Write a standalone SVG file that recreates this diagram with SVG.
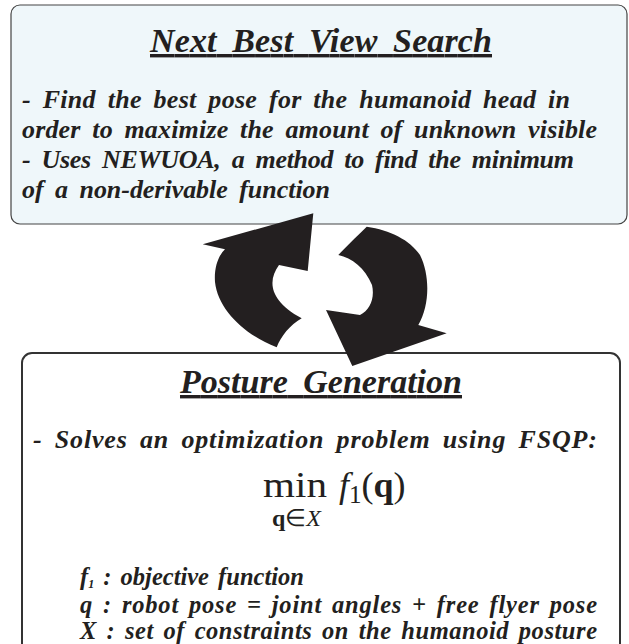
<svg xmlns="http://www.w3.org/2000/svg" width="629" height="644" viewBox="0 0 629 644">
<style>
.t{font-family:"Liberation Serif","Times New Roman",serif;font-weight:bold;font-style:italic;fill:#231f20}
.title{font-size:34px;text-decoration:underline;word-spacing:7px}
.body{font-size:26px;word-spacing:5px}
.small{font-size:24.5px;word-spacing:3px}
.m{font-family:"Liberation Serif","Times New Roman",serif;fill:#231f20}
.arrow{fill:#231f20}
</style>
<rect width="629" height="644" fill="#ffffff"/>
<g id="nbv">
<rect x="11" y="5" width="616" height="219" rx="9" fill="#eff7fa" stroke="#444" stroke-width="1.2"/>
<text class="t title" x="150" y="52" textLength="342" lengthAdjust="spacing">Next Best View Search</text>
<text class="t body" x="22" y="108" textLength="548" lengthAdjust="spacing">- Find the best pose for the humanoid head in</text>
<text class="t body" x="22" y="138" textLength="575" lengthAdjust="spacing">order to maximize the amount of unknown visible</text>
<text class="t body" x="22" y="168" textLength="552" lengthAdjust="spacing">- Uses NEWUOA, a method to find the minimum</text>
<text class="t body" x="22" y="198" textLength="308" lengthAdjust="spacing">of a non-derivable function</text>
</g>
<g id="posture">
<rect x="22" y="353" width="598" height="330" rx="10" fill="#ffffff" stroke="#333" stroke-width="2"/>
<text class="t title" x="180" y="393" textLength="282" lengthAdjust="spacing">Posture Generation</text>
<text class="t body" x="33" y="448" textLength="564" lengthAdjust="spacing">- Solves an optimization problem using FSQP:</text>
<text class="m" x="263" y="497" font-size="36" textLength="64" lengthAdjust="spacingAndGlyphs">min</text>
<text class="m" x="339" y="497" font-size="36"><tspan font-style="italic">f</tspan><tspan font-size="25" dy="6">1</tspan><tspan dy="-6">(</tspan><tspan font-weight="bold">q</tspan><tspan>)</tspan></text>
<text class="m" x="272" y="526" font-size="24"><tspan font-weight="bold">q</tspan><tspan>∈</tspan><tspan font-style="italic">X</tspan></text>
<text class="t small" x="80" y="585"><tspan>f</tspan><tspan font-size="12" dy="3">1</tspan><tspan dy="-3"> : objective function</tspan></text>
<text class="t small" x="80" y="613" textLength="517" lengthAdjust="spacing">q : robot pose = joint angles + free flyer pose</text>
<text class="t small" x="80" y="639" textLength="517" lengthAdjust="spacing">X : set of constraints on the humanoid posture</text>
</g>
<g id="connectors">
<path class="arrow" d="M313.3,213.3 L307.7,271 L279,265 C268,280 268,300 301.7,318.3 C290,325 281,336 276.7,347.3 C245,335 218,310 215,282 C214,268 218,256 225,249.3 L202.7,244.3 Z"/>
<path class="arrow" d="M352.3,366 L446.7,333.3 L418.3,325 C430,305 430,275 420,255 C410,240 390,230 366.7,226.7 C355,238 345,248 338.3,255 C352,258 365,268 372,285 C375,298 370,310 360,315 L326,310 Z"/>
</g>
</svg>
